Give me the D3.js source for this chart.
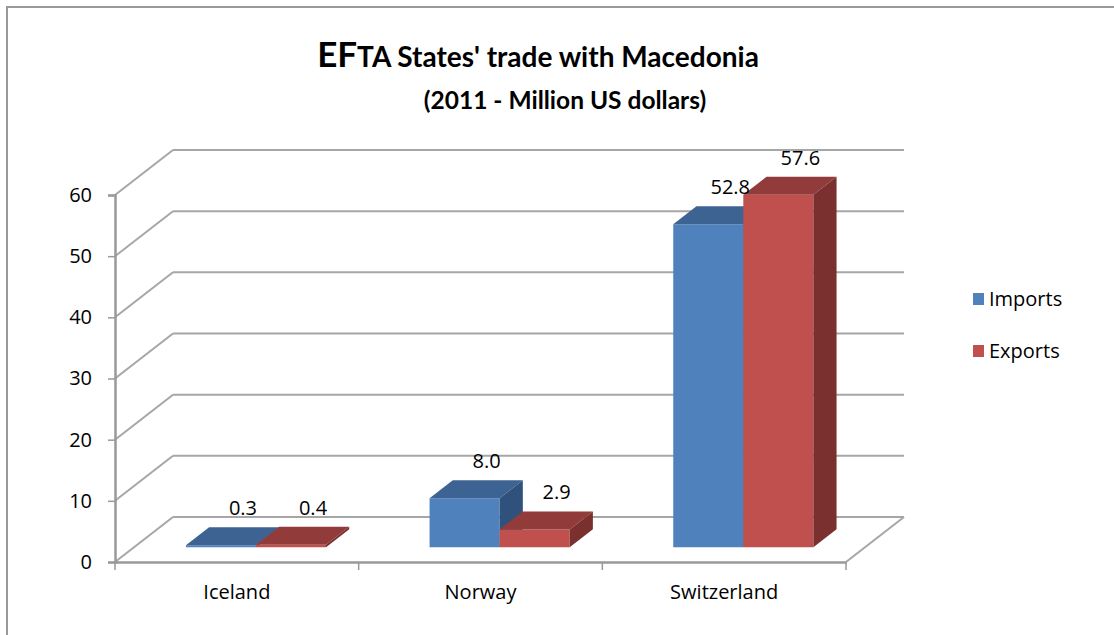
<!DOCTYPE html>
<html>
<head>
<meta charset="utf-8">
<script src="https://cdn.jsdelivr.net/npm/d3@7"></script>
<style>
  body { margin: 0; background: #fff; }
  svg { display: block; font-family: "Open Sans", Lato, sans-serif; }
</style>
</head>
<body>
<svg id="chart" width="1114" height="635"></svg>
<script>
const categories = ['Iceland', 'Norway', 'Switzerland'];
const seriesNames = ['Imports', 'Exports'];
const importsValues = [0.3, 8.0, 52.8];
const exportsValues = [0.4, 2.9, 57.6];
const yTicks = [0, 10, 20, 30, 40, 50, 60];

const seriesValues = [importsValues, exportsValues];
const palette = {
    Imports: { front: '#4f81bd', top: '#3c6392', side: '#30517c' },
    Exports: { front: '#c0504d', top: '#913c3a', side: '#7a302e' }
};

const svg = d3.select('#chart');
const labelFont = '"Open Sans", Lato, sans-serif';

// 3D depth offset of the back wall
const DX = 58, DY = 45;
const x = d3.scaleBand().domain(categories).range([115, 846]);
const y = d3.scaleLinear().domain([0, 60]).range([562, 195]);
const proj = (px, v, d) => [px + d * DX, y(v) - d * DY];
const poly = pts => 'M' + pts.map(p => p.join(',')).join('L') + 'Z';

// Frame
svg.append('rect')
    .attr('x', 7).attr('y', 7).attr('width', 1140).attr('height', 660)
    .attr('fill', '#fff').attr('stroke', '#999').attr('stroke-width', 2);

// Title
const title = svg.append('text')
    .attr('x', 538).attr('y', 67)
    .attr('text-anchor', 'middle').attr('font-weight', 700).attr('fill', '#000')
    .attr('font-family', 'Lato, sans-serif');
title.append('tspan').attr('font-size', '35px').text('EF');
title.append('tspan').attr('font-size', '28px').text("TA States' trade with Macedonia");
svg.append('text')
    .attr('x', 565).attr('y', 109)
    .attr('text-anchor', 'middle').attr('font-weight', 700).attr('font-size', '24.5px')
    .attr('font-family', 'Lato, sans-serif')
    .text('(2011 - Million US dollars)');

const gridColor = '#a6a6a6';
const [x0, x1] = x.range();

// Back wall + left wall gridlines
yTicks.forEach(v => {
    const a = proj(x0, v, 1), b = proj(x1, v, 1), c = proj(x0, v, 0);
    svg.append('line').attr('x1', a[0]).attr('y1', a[1]).attr('x2', b[0]).attr('y2', b[1])
        .attr('stroke', gridColor).attr('stroke-width', 2);
    svg.append('line').attr('x1', c[0]).attr('y1', c[1]).attr('x2', a[0]).attr('y2', a[1])
        .attr('stroke', gridColor).attr('stroke-width', 2);
});

// Floor right edge
const fr = proj(x1, 0, 0), br = proj(x1, 0, 1);
svg.append('line').attr('x1', fr[0]).attr('y1', fr[1]).attr('x2', br[0]).attr('y2', br[1])
    .attr('stroke', gridColor).attr('stroke-width', 2);

// Y axis
const yAxis = svg.append('g').attr('transform', `translate(${x0},0)`)
    .call(d3.axisLeft(y).tickValues(yTicks).tickSize(7).tickPadding(16).tickFormat(d3.format('d')));
yAxis.select('.domain').attr('stroke', '#999').attr('stroke-width', 2.5);
yAxis.selectAll('.tick line').attr('stroke', '#999').attr('stroke-width', 1.5);
yAxis.selectAll('text').attr('font-size', '20px').attr('fill', '#000').attr('font-family', labelFont);

// X axis
const xAxis = svg.append('g').attr('transform', `translate(0,${y(0)})`)
    .call(d3.axisBottom(x).tickSize(0).tickPadding(23));
xAxis.select('.domain').attr('stroke', '#999').attr('stroke-width', 2.5);
xAxis.selectAll('text').attr('font-size', '20px').attr('fill', '#000').attr('font-family', labelFont);
[...categories.map(c => x(c)), x1].forEach(px => {
    svg.append('line').attr('x1', px).attr('x2', px).attr('y1', y(0)).attr('y2', y(0) + 8)
        .attr('stroke', '#999').attr('stroke-width', 1.5);
});

// Bars (front face at depth d0, back at d1)
const d0 = 0.33, d1 = 0.73;
const groupW = x.bandwidth() * 0.575;
const xs = d3.scaleBand().domain(seriesNames).range([0, groupW]);

categories.forEach((cat, ci) => {
    const gx = x(cat) + (x.bandwidth() - groupW) / 2;
    seriesNames.forEach((s, si) => {
        const v = seriesValues[si][ci];
        const col = palette[s];
        const bx0 = gx + xs(s), bx1 = bx0 + xs.bandwidth();
        const g = svg.append('g');
        g.append('path').attr('fill', col.front)
            .attr('d', poly([proj(bx0, 0, d0), proj(bx1, 0, d0), proj(bx1, v, d0), proj(bx0, v, d0)]));
        g.append('path').attr('fill', col.top)
            .attr('d', poly([proj(bx0, v, d0), proj(bx1, v, d0), proj(bx1, v, d1), proj(bx0, v, d1)]));
        g.append('path').attr('fill', col.side)
            .attr('d', poly([proj(bx1, 0, d0), proj(bx1, v, d0), proj(bx1, v, d1), proj(bx1, 0, d1)]));
    });
});

// Data labels
categories.forEach((cat, ci) => {
    const gx = x(cat) + (x.bandwidth() - groupW) / 2;
    seriesNames.forEach((s, si) => {
        const v = seriesValues[si][ci];
        const cx = gx + xs(s) + xs.bandwidth() / 2;
        const p = proj(cx, v, d0);
        svg.append('text')
            .attr('x', p[0] + 22).attr('y', p[1] - 30)
            .attr('text-anchor', 'middle').attr('font-size', '20px').attr('fill', '#000')
            .attr('font-family', labelFont)
            .text(d3.format('.1f')(v));
    });
});

// Legend
const legend = svg.append('g').attr('transform', 'translate(973,293)');
seriesNames.forEach((s, i) => {
    const item = legend.append('g').attr('transform', `translate(0,${i * 52})`);
    item.append('rect').attr('width', 11).attr('height', 12).attr('fill', palette[s].front);
    item.append('text').attr('x', 16).attr('y', 13).attr('font-size', '20px').attr('fill', '#000')
        .attr('font-family', labelFont).text(s);
});
</script>
</body>
</html>
